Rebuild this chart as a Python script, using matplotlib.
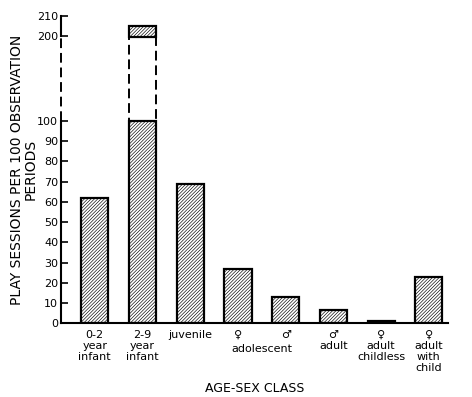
#! /usr/bin/env python3

import numpy as np
import matplotlib.pyplot as plt

# Daten
klassen = ["0-2\nyear\ninfant", "2-9\nyear\ninfant", "juvenile", "♀", "♂",
           "♂\nadult", "♀\nadult\nchildless", "♀\nadult\nwith\nchild"]
sessions = [62, 205, 69, 27, 13, 6.5, 1, 23]
bruch_unten = 100
bruch_oben = 199
yticks = [0, 10, 20, 30, 40, 50, 60, 70, 80, 90, 100, 200, 210]
gemeinsam_label = "adolescent"


# Achse mit Bruch zwischen 100 und 200
def vorwaerts(v):
    v = np.asarray(v, dtype=float)
    return np.where(v <= 100, v, np.where(v <= 200, 100 + (v - 100) * 0.42, 142 + (v - 200)))


def rueckwaerts(y):
    y = np.asarray(y, dtype=float)
    return np.where(y <= 100, y, np.where(y <= 142, 100 + (y - 100) / 0.42, 200 + (y - 142)))


plt.rcParams['hatch.linewidth'] = 0.45
fig = plt.figure(figsize=(4.72, 3.97), dpi=100)
ax = fig.add_axes([0.129, 0.186, 0.82, 0.774])
ax.set_yscale('function', functions=(vorwaerts, rueckwaerts))

muster = '/' * 10
x = np.arange(len(sessions))
unten = [min(s, bruch_unten) for s in sessions]
ax.bar(x, unten, width=0.57, color='white', edgecolor='black', linewidth=1.6, hatch=muster)
for xi, s in zip(x, sessions):
    if s > bruch_oben:
        ax.bar(xi, bruch_oben - bruch_unten, bottom=bruch_unten, width=0.57, fill=False,
               edgecolor='black', linewidth=1.4, linestyle=(0, (5, 2.5)))
        ax.bar(xi, s - bruch_oben, bottom=bruch_oben, width=0.57, color='white',
               edgecolor='black', linewidth=1.6, hatch=muster)

ax.set_xlim(-0.71, 7.4)
ax.set_ylim(0, 210)
ax.set_yticks(yticks)
ax.tick_params(axis='y', direction='in', length=5, width=1.2, labelsize=8, pad=2)
ax.set_xticks(x)
ax.set_xticklabels(klassen, fontsize=8, linespacing=1.1)
ax.tick_params(axis='x', length=0, pad=5)
ax.text(3.5, -0.068, gemeinsam_label, transform=ax.get_xaxis_transform(),
        ha='center', va='top', fontsize=8)

# linke Achse: durchgezogen, gestrichelt im Bruch
for s in ['top', 'right', 'left']:
    ax.spines[s].set_visible(False)
ax.spines['bottom'].set_linewidth(1.5)
yt = ax.get_yaxis_transform()
ax.plot([0, 0], [0, bruch_unten], color='black', lw=1.5, transform=yt, clip_on=False)
ax.plot([0, 0], [bruch_unten, 200], color='black', lw=1.4, ls=(0, (5, 2.5)), transform=yt, clip_on=False)
ax.plot([0, 0], [200, 210], color='black', lw=1.5, transform=yt, clip_on=False)

ax.set_ylabel("PLAY SESSIONS PER 100 OBSERVATION\nPERIODS", fontsize=10, linespacing=1.0)
ax.yaxis.set_label_coords(-0.06, 0.5)
ax.set_xlabel("AGE-SEX CLASS", fontsize=9)
ax.xaxis.set_label_coords(0.5, -0.19)

plt.savefig("out.png", dpi=100)
